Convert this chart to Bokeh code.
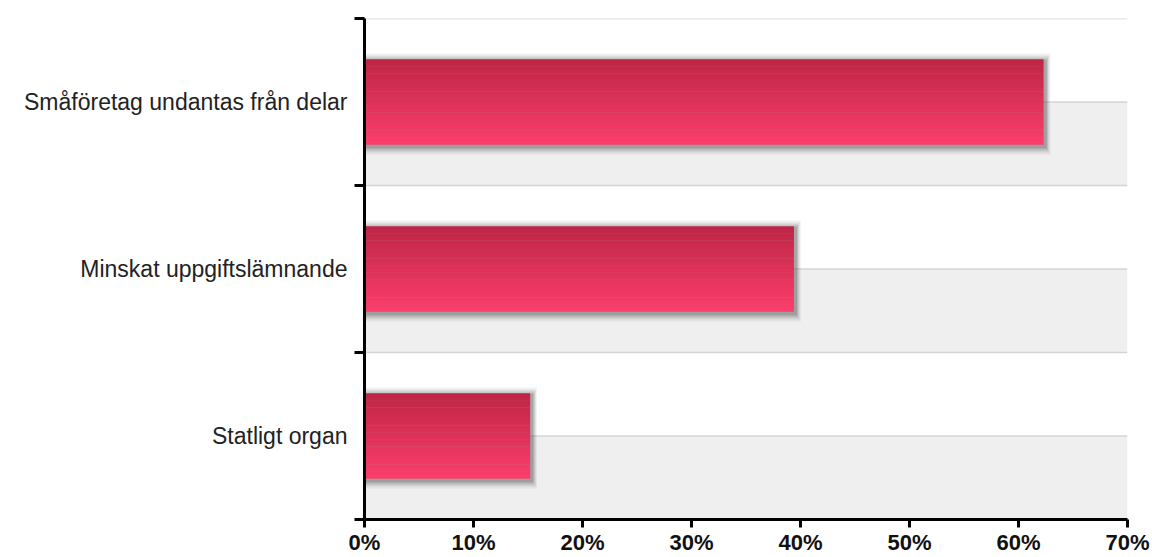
from bokeh.plotting import figure
from bokeh.models import Range1d, FixedTicker, PrintfTickFormatter, BoxAnnotation, Span
from bokeh.embed import file_html
from bokeh.resources import INLINE

# ---- data ----
categories = ["Statligt organ", "Minskat uppgiftslämnande", "Småföretag undantas från delar"]
values = [15.2, 39.4, 62.3]          # percent
x_ticks = [0, 10, 20, 30, 40, 50, 60, 70]

# ---- styling ----
W, H = 1152, 557
BL, BR, BT, BB = 364, 25, 18, 38
frame_w = W - BL - BR
frame_h = H - BT - BB
px_x = 70.0 / frame_w      # data units per pixel (x)
px_y = 3.0 / frame_h       # data units per pixel (y)

p = figure(width=W, height=H, output_backend="svg", toolbar_location=None,
           x_range=Range1d(0, 70), y_range=Range1d(0, 3),
           min_border_left=BL, min_border_right=BR, min_border_top=BT, min_border_bottom=BB)
p.outline_line_color = None
p.xgrid.visible = False
p.ygrid.visible = False
p.background_fill_color = "white"

centers = [i + 0.5 for i in range(len(categories))]

# background bands (lower half of each category) and lines
for c in centers:
    p.add_layout(BoxAnnotation(bottom=c - 0.5, top=c, fill_color="#efefef", fill_alpha=1.0, line_color=None, level="underlay"))
for yv in [0.5, 1, 1.5, 2, 2.5, 3]:
    p.add_layout(Span(location=yv, dimension="width", line_color="#d4d4d4", line_width=1.5, level="underlay"))

bar_h = 0.51

# shadow layers
for grow, alpha in [(8, 0.08), (6, 0.12), (4, 0.18), (2, 0.28)]:
    p.hbar(y=[c - 2 * px_y for c in centers], left=0,
           right=[v + (2 + grow * 0.6) * px_x for v in values],
           height=bar_h + 2 * grow * px_y, fill_color="#555555", fill_alpha=alpha, line_color=None)

# gradient bars
N = 24
top_rgb = (190, 38, 70)
bot_rgb = (252, 62, 108)
for k in range(N):
    t = (k + 0.5) / N
    r = int(top_rgb[0] + (bot_rgb[0] - top_rgb[0]) * t)
    g = int(top_rgb[1] + (bot_rgb[1] - top_rgb[1]) * t)
    b = int(top_rgb[2] + (bot_rgb[2] - top_rgb[2]) * t)
    col = "#%02x%02x%02x" % (r, g, b)
    ys = [c + bar_h / 2 - (k + 0.5) * bar_h / N for c in centers]
    p.hbar(y=ys, left=0, right=values, height=bar_h / N * 1.1, fill_color=col, line_color=None)

# x axis
xa = p.xaxis[0]
xa.ticker = FixedTicker(ticks=x_ticks)
xa.formatter = PrintfTickFormatter(format="%d%%")
xa.axis_line_color = "black"
xa.axis_line_width = 3
xa.major_tick_line_color = "black"
xa.major_tick_line_width = 3
xa.major_tick_out = 8
xa.major_tick_in = 0
xa.minor_tick_line_color = None
xa.major_label_text_font = "Liberation Sans"
xa.major_label_text_font_style = "bold"
xa.major_label_text_font_size = "22px"
xa.major_label_text_color = "#111111"
xa.major_label_standoff = 2

# y axis
ya = p.yaxis[0]
ya.ticker = FixedTicker(ticks=centers, minor_ticks=[0, 1, 2, 3])
ya.major_label_overrides = {c: cat for c, cat in zip(centers, categories)}
ya.axis_line_color = "black"
ya.axis_line_width = 3
ya.major_tick_line_color = None
ya.major_tick_out = 0
ya.minor_tick_line_color = "black"
ya.minor_tick_line_width = 3
ya.minor_tick_out = 10
ya.minor_tick_in = 0
ya.major_label_text_font = "Liberation Sans"
ya.major_label_text_font_size = "23px"
ya.major_label_text_color = "#222222"
ya.major_label_standoff = 7

open("out.html", "w").write(file_html(p, INLINE))
